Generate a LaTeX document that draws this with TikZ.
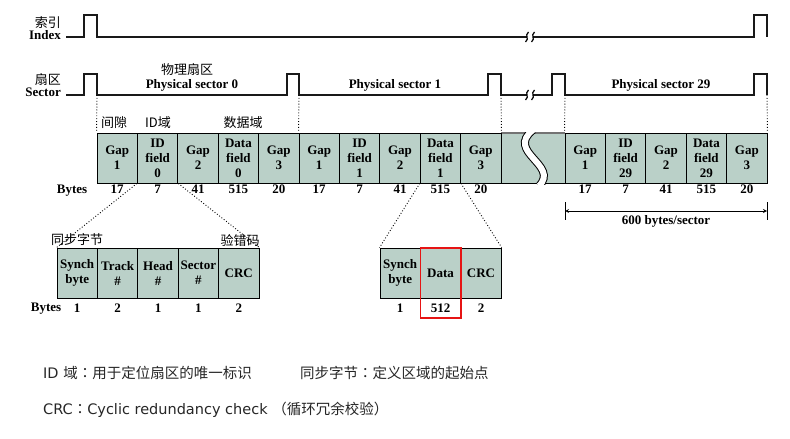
\documentclass[tikz,border=0pt]{standalone}
\usepackage{fontspec}
\setmainfont{Liberation Serif}
\newfontfamily\cjk{Noto Sans CJK SC}
\newfontfamily\cjkc{Noto Sans CJK JP}
\newfontfamily\dejavu{DejaVu Sans}
\usetikzlibrary{arrows,calc}
\definecolor{cellfill}{RGB}{186,208,200}
\definecolor{boxred}{RGB}{230,20,20}

\begin{document}
\begin{tikzpicture}[x=1pt,y=-1pt,>=stealth,
  wave/.style={line width=1.8pt,black!90},
  dots/.style={dotted,line width=0.9pt},
  cell/.style={draw,fill=cellfill,line width=0.9pt,minimum width=40.4pt,minimum height=50pt,inner sep=0pt,align=center,font=\bfseries\fontsize{13}{15}\selectfont},
  num/.style={inner sep=0pt,font=\bfseries\fontsize{13}{15}\selectfont},
  nb/.style={label={[num,label distance=1.5pt]below:#1}},
  nl/.style={label={[num,label distance=5.5pt]below:#1}},
  zh/.style={inner sep=0pt,font=\cjk\fontsize{13}{15}\selectfont},
  note/.style={anchor=west,inner sep=0pt,text=black!85,font=\fontsize{14.5}{17}\selectfont}]
\useasboundingbox (0,0) rectangle (790,439);

\node[zh,anchor=east] (zidx) at (61,22.5) {索引};
\node[num,anchor=base east] (idx) at (61,39) {Index};
\node[zh,anchor=east] (zsec) at (61,79.5) {扇区};
\node[num,anchor=base east] (sect) at (61,96) {Sector};

\draw[wave] (66,37) -| (84,15) -| (97,37) -- (527,37);
\draw[wave] (533,37) -| (754,15) -| (767,37);
\draw[wave] (66,95) -| (84,74) -| (97,95) -| (287,74) -| (299,95) -| (488,74) -| (501,95) -- (527,95);
\draw[wave] (533,95) -| (552,74) -| (565,95) -| (754,74) -| (767,95);
\draw[line width=1.2pt] (528.5,32) .. controls (524,36) and (530,38) .. (525.5,42);
\draw[line width=1.2pt] (534.5,32) .. controls (530,36) and (536,38) .. (531.5,42);
\draw[line width=1.2pt] (528.5,90) .. controls (524,94) and (530,96) .. (525.5,100);
\draw[line width=1.2pt] (534.5,90) .. controls (530,94) and (536,96) .. (531.5,100);

\coordinate (e0) at (97,95);
\coordinate (e1) at (299,95);
\coordinate (e2) at (501,95);
\coordinate (e3) at (565,95);
\coordinate (e4) at (767,95);

\node[zh] (wl) at (187,69.5) {物理扇区};
\node[num,anchor=base] (ps0) at (192,88.5) {Physical sector 0};
\node[num,anchor=base] (ps1) at (395,88.5) {Physical sector 1};
\node[num,anchor=base] (ps29) at (661,88.5) {Physical sector 29};

\fill[cellfill] (501,133) rectangle (565,183);
\draw[black!55,line width=1.2pt] (501,133) -- (565,133);
\draw[line width=0.9pt] (501,183) -- (565,183);
\begin{scope}
\clip (501,132) rectangle (565,184);
\draw[line width=8pt] (533,130) .. controls (505,152) and (560,165) .. (539,186);
\draw[white,line width=6pt] (533,130) .. controls (505,152) and (560,165) .. (539,186);
\end{scope}

\node[cell,nb=17] (g01) at (117.2,158) {Gap\\1};
\node[cell,nb=7] (id0) at (157.6,158) {ID\\field\\0};
\node[cell,nb=41] (g02) at (198,158) {Gap\\2};
\node[cell,nb=515] (df0) at (238.4,158) {Data\\field\\0};
\node[cell,nb=20] (g03) at (278.8,158) {Gap\\3};
\node[cell,nb=17] (g11) at (319.2,158) {Gap\\1};
\node[cell,nb=7] (id1) at (359.6,158) {ID\\field\\1};
\node[cell,nb=41] (g12) at (400,158) {Gap\\2};
\node[cell,nb=515] (df1) at (440.4,158) {Data\\field\\1};
\node[cell,nb=20] (g13) at (480.8,158) {Gap\\3};
\node[cell,nb=17] (g291) at (585.2,158) {Gap\\1};
\node[cell,nb=7] (id29) at (625.6,158) {ID\\field\\29};
\node[cell,nb=41] (g292) at (666,158) {Gap\\2};
\node[cell,nb=515] (df29) at (706.4,158) {Data\\field\\29};
\node[cell,nb=20] (g293) at (746.8,158) {Gap\\3};

\node[num,anchor=base] (by0) at (72,193.8) {Bytes};
\node[zh] (jx) at (114,123) {间隙};
\node[zh] (idy) at (158,123) {ID域};
\node[zh] (sjy) at (243,123) {数据域};

\draw[dots] (e0) -- (g01.north west);
\draw[dots] (e1) -- (g11.north west);
\draw[dots] (e2) -- (g13.north east);
\draw[dots] (e3) -- (g291.north west);
\draw[dots] (e4) -- (g293.north east);

\coordinate (aL) at (565,211);
\coordinate (aR) at (767,211);
\draw (565,202) -- (565,220);
\draw (767,202) -- (767,220);
\draw[<->,line width=0.8pt] (aL) -- (aR);
\node[num,anchor=base] (bps) at (666,224) {600 bytes/sector};

\node[cell,nl=1] (syn) at (77.2,273) {Synch\\byte};
\node[cell,nl=2] (trk) at (117.6,273) {Track\\\#};
\node[cell,nl=1] (hed) at (158,273) {Head\\\#};
\node[cell,nl=1] (sec) at (198.4,273) {Sector\\\#};
\node[cell,nl=2] (crc) at (238.8,273) {CRC};
\node[num,anchor=base] (by1) at (46,311.5) {Bytes};
\node[zh] (tbzj) at (77,240) {同步字节};
\node[zh] (ycm) at (240,240) {验错码};

\node[cell,nl=1] (syn2) at (400.2,273) {Synch\\byte};
\node[cell,nl=512] (dat) at (440.6,273) {Data};
\node[cell,nl=2] (crc2) at (481,273) {CRC};

\draw[dots] (id0.south west) -- (syn.north west);
\draw[dots] (id0.south east) -- (crc.north east);
\draw[dots] (df1.south west) -- (syn2.north west);
\draw[dots] (df1.south east) -- (crc2.north east);

\node[note] (n1) at (43,373) {{\dejavu ID }{\cjk 域}{\cjkc ：}{\cjk 用于定位扇区的唯一标识}};
\node[note] (n2) at (300,373) {{\cjk 同步字节}{\cjkc ：}{\cjk 定义区域的起始点}};
\node[note] (n3) at (43,410) {{\dejavu CRC}{\cjkc ：}{\dejavu Cyclic redundancy check }{\cjk （循环冗余校验）}};

\draw[boxred,line width=1.6pt] (420.4,248) rectangle (460.8,318);
\end{tikzpicture}
\end{document}
